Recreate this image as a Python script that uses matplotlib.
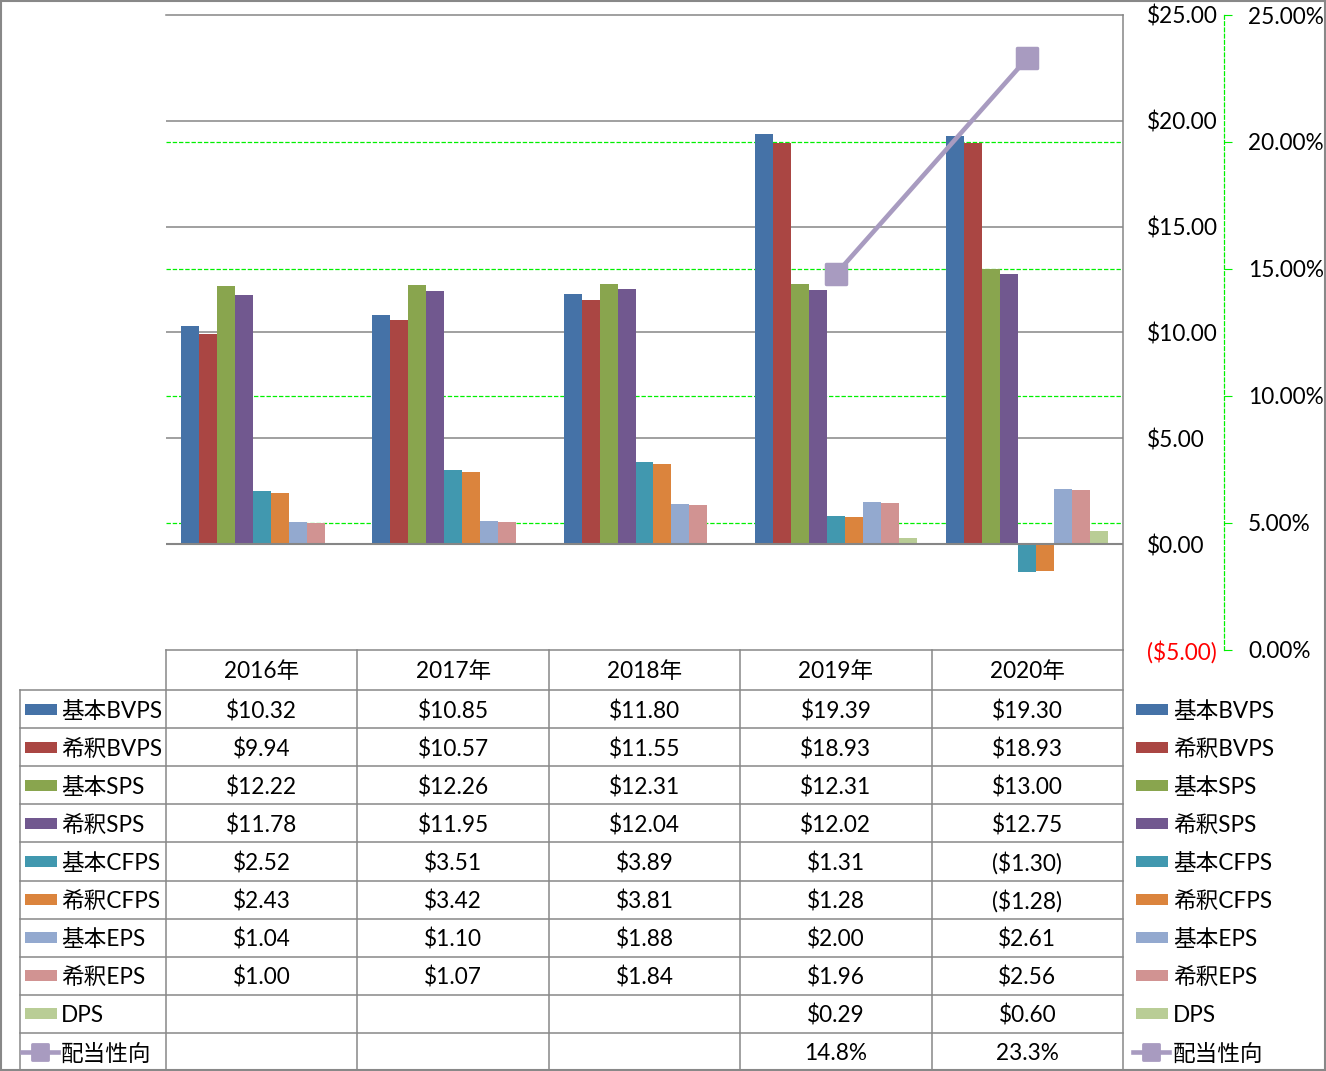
import numpy as np
import matplotlib.pyplot as plt
from matplotlib.lines import Line2D
from matplotlib.patches import Rectangle
from matplotlib.markers import MarkerStyle

plt.rcParams['font.family'] = ['Lato', 'Noto Sans CJK JP']

years = ['2016年', '2017年', '2018年', '2019年', '2020年']
series_names = ['基本BVPS', '希釈BVPS', '基本SPS', '希釈SPS', '基本CFPS',
                '希釈CFPS', '基本EPS', '希釈EPS', 'DPS']
basic_bvps = [10.32, 10.85, 11.80, 19.39, 19.30]
dil_bvps = [9.94, 10.57, 11.55, 18.93, 18.93]
basic_sps = [12.22, 12.26, 12.31, 12.31, 13.00]
dil_sps = [11.78, 11.95, 12.04, 12.02, 12.75]
basic_cfps = [2.52, 3.51, 3.89, 1.31, -1.30]
dil_cfps = [2.43, 3.42, 3.81, 1.28, -1.28]
basic_eps = [1.04, 1.10, 1.88, 2.00, 2.61]
dil_eps = [1.00, 1.07, 1.84, 1.96, 2.56]
dps = [np.nan, np.nan, np.nan, 0.29, 0.60]
payout_name = '配当性向'
payout = [np.nan, np.nan, np.nan, 14.8, 23.3]  # percent

series = [basic_bvps, dil_bvps, basic_sps, dil_sps, basic_cfps,
          dil_cfps, basic_eps, dil_eps, dps]
colors = ['#4572A7', '#AA4643', '#89A54E', '#71588F', '#4198AF',
          '#DB843D', '#93A9CF', '#D19392', '#B9CD96']
line_color = '#A89BC0'
grid_gray = '#868686'
green = '#00F000'
fs = 16.3

W, H = 1326, 1071


def fx(x):
    return x / W


def fy(y):
    return 1 - y / H


fig = plt.figure(figsize=(W / 100, H / 100), dpi=100)
ax_left, ax_right, ax_top, ax_bot = 166, 1123, 15, 650
rect = [fx(ax_left), fy(ax_bot), fx(ax_right - ax_left), (ax_bot - ax_top) / H]

ax2 = fig.add_axes(rect)          # secondary (percent) axis, drawn underneath
ax = fig.add_axes(rect, sharex=ax2)  # bars
ax3 = fig.add_axes(rect, sharex=ax2)  # payout line on top
for a, z in [(ax2, 1), (ax, 2), (ax3, 3)]:
    a.set_zorder(z)
ax.patch.set_visible(False)
ax3.patch.set_visible(False)

x = np.arange(len(years))
n = len(series)
bw = 0.094
for i, (vals, c) in enumerate(zip(series, colors)):
    ax.bar(x + (i - (n - 1) / 2) * bw, vals, bw, color=c, zorder=2)

ax.set_xlim(-0.5, len(years) - 0.5)
ax.set_ylim(-5, 25)
yt = [-5, 0, 5, 10, 15, 20, 25]
ylabels = [f'${v:.2f}' if v >= 0 else f'(${-v:.2f})' for v in yt]
ax.set_yticks(yt, labels=ylabels)
ax.yaxis.tick_right()
ax.tick_params(axis='y', length=0, pad=17, labelsize=fs)
for t, v in zip(ax.yaxis.get_major_ticks(), yt):
    if v < 0:
        t.label2.set_color('red')
ax.set_xticks([])
for v in [5, 10, 15, 20]:
    ax.axhline(v, color=grid_gray, lw=1.1, zorder=0)
ax.axhline(0, color=grid_gray, lw=1.5, zorder=3)
for s in ['left', 'bottom']:
    ax.spines[s].set_visible(False)
ax.spines['top'].set_color(grid_gray)
ax.spines['top'].set_linewidth(1.1)
ax.spines['right'].set_color(grid_gray)
ax.spines['right'].set_linewidth(1.1)

# secondary axis
ax2.set_ylim(0, 25)
pt = [0, 5, 10, 15, 20, 25]
ax2.set_yticks(pt, labels=[f'{v:.2f}%' for v in pt])
ax2.yaxis.tick_right()
ax2.tick_params(axis='y', length=5.8, pad=11.5, color=green, labelsize=fs)
ax2.set_xticks([])
for v in pt[1:-1]:
    ax2.axhline(v, color=green, lw=0.9, linestyle=(0, (3.5, 1.5)))
for s in ['left', 'top', 'bottom']:
    ax2.spines[s].set_visible(False)
ax2.spines['right'].set_position(('outward', 72.7))
ax2.spines['right'].set_color(green)
ax2.spines['right'].set_linestyle((0, (3, 2)))
ax2.spines['right'].set_linewidth(0.9)

mk = MarkerStyle('s', joinstyle='round')
ax3.plot(x, payout, color=line_color, lw=3.3, marker=mk, markersize=14,
         markerfacecolor=line_color, markeredgecolor=line_color, mew=2.5)
ax3.set_ylim(0, 25)
ax3.set_xlim(-0.5, len(years) - 0.5)
ax3.axis('off')

# data table under the plot
col_w = (ax_right - ax_left) / len(years)
col_edges = [ax_left + i * col_w for i in range(len(years) + 1)]
head_bot = 690
row_h = (H - head_bot) / (n + 1)
row_edges = [head_bot + i * row_h for i in range(n + 2)]
tbl_left = 20
lc = '#888888'
lw = 1.1
dy = 2  # small downward nudge for text centring


def hline(y, x0, x1):
    fig.add_artist(Line2D([fx(x0), fx(x1)], [fy(y), fy(y)], color=lc, lw=lw))


def vline(xp, y0, y1):
    fig.add_artist(Line2D([fx(xp), fx(xp)], [fy(y0), fy(y1)], color=lc, lw=lw))


hline(ax_bot, ax_left, ax_right)
for y in row_edges:
    hline(y, tbl_left, ax_right)
vline(tbl_left, head_bot, H)
for xe in col_edges:
    vline(xe, ax_bot, H)

for j, yr in enumerate(years):
    fig.text(fx(col_edges[j] + col_w / 2), fy((ax_bot + head_bot) / 2 + dy), yr,
             ha='center', va='center', fontsize=fs)


def fmt(v):
    if np.isnan(v):
        return ''
    return f'${v:.2f}' if v >= 0 else f'(${-v:.2f})'


rows = [(nm, vals, c) for nm, vals, c in zip(series_names, series, colors)]
for i, (nm, vals, c) in enumerate(rows):
    yc = (row_edges[i] + row_edges[i + 1]) / 2
    for j, v in enumerate(vals):
        fig.text(fx(col_edges[j] + col_w / 2), fy(yc + dy), fmt(v),
                 ha='center', va='center', fontsize=fs)
    for px0, tx in [(25, 61), (1136, 1173)]:
        fig.add_artist(Rectangle((fx(px0), fy(yc + 5.5)), fx(32), 11 / H,
                                 facecolor=c, edgecolor='none'))
        fig.text(fx(tx), fy(yc + dy), nm, ha='left', va='center', fontsize=fs)

# payout row
yc = (row_edges[n] + row_edges[n + 1]) / 2
for j, v in enumerate(payout):
    if not np.isnan(v):
        fig.text(fx(col_edges[j] + col_w / 2), fy(yc + dy), f'{v:.1f}%',
                 ha='center', va='center', fontsize=fs)
for px0, tx in [(22, 61), (1133, 1173)]:
    fig.add_artist(Line2D([fx(px0), fx(px0 + 36)], [fy(yc), fy(yc)],
                          color=line_color, lw=3.3))
    fig.add_artist(Line2D([fx(px0 + 18)], [fy(yc)], marker=mk, markersize=12,
                          color=line_color, mew=2))
    fig.text(fx(tx), fy(yc + dy), payout_name, ha='left', va='center', fontsize=fs)

# outer border
fig.add_artist(Rectangle((0.0005, 0.0007), 0.999, 0.9986, transform=fig.transFigure,
                         fill=False, edgecolor=lc, lw=1.5))

fig.savefig('out.png', dpi=100)
